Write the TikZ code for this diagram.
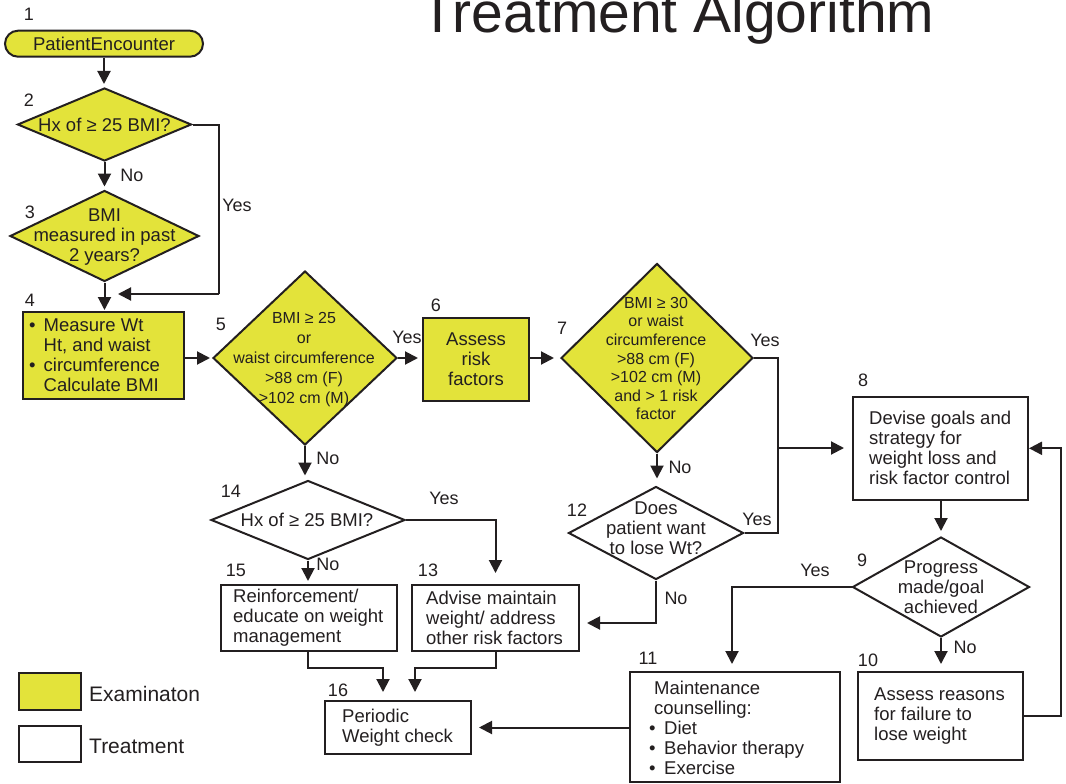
\documentclass[tikz,border=0pt]{standalone}
\usepackage{fontspec}
\setmainfont{Liberation Sans}
\usetikzlibrary{shapes.geometric,arrows.meta}
\definecolor{exyellow}{RGB}{227,227,58}
\definecolor{ink}{RGB}{35,31,32}
\newcommand\fmain{\fontsize{18.5}{20}\selectfont}
\newcommand\fdfive{\fontsize{16}{19.8}\selectfont}
\newcommand\fdseven{\fontsize{16}{18.6}\selectfont}
\newcommand\flab{\fontsize{18}{20}\selectfont}
\newcommand\flegend{\fontsize{21}{24}\selectfont}
\newcommand\ftitle{\fontsize{57}{60}\selectfont}
\newcommand\bul{\makebox[14.5pt][l]{\textbullet}}
\newcommand\bulb{\makebox[15pt][l]{\textbullet}}
\begin{document}
\begin{tikzpicture}[x=1pt,y=-1pt,
  exbox/.style={draw=ink, line width=2pt, fill=exyellow, inner sep=0pt},
  trbox/.style={draw=ink, line width=2pt, fill=white, inner sep=0pt},
  exdia/.style={exbox, diamond},
  trdia/.style={trbox, diamond},
  txt/.style={inner sep=0pt, align=center, font=\fmain, text=ink},
  ltxt/.style={inner sep=0pt, align=left, anchor=west, font=\fmain, text=ink},
  lab/.style={inner sep=0pt, font=\flab, text=ink},
  line/.style={draw=ink, line width=2pt},
  arr/.style={line, -{Triangle[length=13pt,width=13pt]}, shorten >=#1},
  arr/.default=3pt]
\useasboundingbox (0,0) rectangle (1066,784);

% title
\node[anchor=base west, inner sep=0pt, font=\ftitle, text=ink] (title) at (420,33) {Treatment Algorithm};

% 1
\node[exbox, rounded corners=13pt, minimum width=198pt, minimum height=26pt, font=\fmain, text=ink] (n1) at (104,43.7) {PatientEncounter};
% 2
\node[exdia, minimum width=174pt, minimum height=73pt] (d2) at (104.5,124.5) {};
\node[txt] (d2t) at (d2.center) {Hx of ≥ 25 BMI?};
% 3
\node[exdia, minimum width=189pt, minimum height=91pt] (d3) at (104.5,236) {};
\node[txt] (d3t) at (104.5,237) {BMI\\measured in past\\2 years?};
% 4
\node[exbox, minimum width=161pt, minimum height=87pt] (b4) at (103,355.5) {};
\node[ltxt] (b4t) at (29,355.5) {\bul Measure Wt\\\hspace*{14.5pt}Ht, and waist\\\bul circumference\\\hspace*{14.5pt}Calculate BMI};
% 5
\node[exdia, minimum width=184pt, minimum height=174pt] (d5) at (305,358) {};
\node[txt, font=\fdfive] (d5t) at (304,359.5) {BMI ≥ 25\\or\\waist circumference\\>88 cm (F)\\>102 cm (M)};
% 6
\node[exbox, minimum width=106pt, minimum height=83pt] (b6) at (476,359) {};
\node[txt] (b6t) at (b6.center) {Assess\\risk\\factors};
% 7
\node[exdia, minimum width=192pt, minimum height=189pt] (d7) at (657,358) {};
\node[txt, font=\fdseven] (d7t) at (656,358.5) {BMI ≥ 30\\or waist\\circumference\\>88 cm (F)\\>102 cm (M)\\and > 1 risk\\factor};
% 8
\node[trbox, minimum width=175pt, minimum height=103pt] (b8) at (940.5,448.3) {};
\node[ltxt] (b8t) at (869,448) {Devise goals and\\strategy for\\weight loss and\\risk factor control};
% 9
\node[trdia, minimum width=177pt, minimum height=100pt] (d9) at (941,587) {};
\node[txt] (d9t) at (941,587) {Progress\\made/goal\\achieved};
% 10
\node[trbox, minimum width=165pt, minimum height=88pt] (b10) at (940.5,716) {};
\node[ltxt] (b10t) at (874,716) {Assess reasons\\for failure to\\lose weight};
% 11
\node[trbox, minimum width=210pt, minimum height=110pt] (b11) at (735,727) {};
\node[ltxt] (b11t) at (649,728) {\hspace*{5pt}Maintenance\\\hspace*{5pt}counselling:\\\bulb Diet\\\bulb Behavior therapy\\\bulb Exercise};
% 12
\node[trdia, minimum width=175pt, minimum height=93pt] (d12) at (656,533) {};
\node[txt] (d12t) at (656,528) {Does\\patient want\\to lose Wt?};
% 13
\node[trbox, minimum width=167pt, minimum height=66pt] (b13) at (495.5,618) {};
\node[ltxt] (b13t) at (426,618) {Advise maintain\\weight/ address\\other risk factors};
% 14
\node[trdia, minimum width=194pt, minimum height=79pt] (d14) at (308,520) {};
\node[txt] (d14t) at (307,520) {Hx of ≥ 25 BMI?};
% 15
\node[trbox, minimum width=176pt, minimum height=66pt] (b15) at (309,618) {};
\node[ltxt] (b15t) at (233,618) {Reinforcement/\\educate on weight\\management};
% 16
\node[trbox, minimum width=146pt, minimum height=53pt] (b16) at (398,727.5) {};
\node[ltxt] (b16t) at (342,727.5) {Periodic\\Weight check};

% number labels
\node[lab] (l1) at (29,14) {1};
\node[lab] (l2) at (29,100) {2};
\node[lab] (l3) at (30,212) {3};
\node[lab] (l4) at (30,300) {4};
\node[lab] (l5) at (221,324) {5};
\node[lab] (l6) at (436,305) {6};
\node[lab] (l7) at (562,328) {7};
\node[lab] (l8) at (863,380) {8};
\node[lab] (l9) at (862,560) {9};
\node[lab] (l10) at (868,660) {10};
\node[lab] (l11) at (648,658) {11};
\node[lab] (l12) at (577,510) {12};
\node[lab] (l13) at (428,570) {13};
\node[lab] (l14) at (231,491) {14};
\node[lab] (l15) at (236,570) {15};
\node[lab] (l16) at (338,690) {16};

% yes / no labels
\node[lab] (no2) at (132,175) {No};
\node[lab] (yes2) at (237,205) {Yes};
\node[lab] (yes5) at (407,337) {Yes};
\node[lab] (no5) at (328,458) {No};
\node[lab] (yes7) at (765,340) {Yes};
\node[lab] (no7) at (680,467) {No};
\node[lab] (yes12) at (757,519) {Yes};
\node[lab] (no12) at (676,598) {No};
\node[lab] (yes14) at (444,498) {Yes};
\node[lab] (no14) at (328,564) {No};
\node[lab] (yes9) at (815,570) {Yes};
\node[lab] (no9) at (965,647) {No};

% legend
\node[exbox, minimum width=62pt, minimum height=37pt] (lgE) at (50,691.7) {};
\node[trbox, minimum width=62pt, minimum height=36pt] (lgT) at (50,744) {};
\node[anchor=west, inner sep=0pt, font=\flegend, text=ink] (lgEt) at (89,694) {Examinaton};
\node[anchor=west, inner sep=0pt, font=\flegend, text=ink] (lgTt) at (89,746.7) {Treatment};

% helper coordinates
\coordinate (c2) at (219,294);
\coordinate (c2e) at (118,294);
\coordinate (jy) at (778,448);

% connectors
\draw[arr] (n1.south) -- (n1.south |- d2.north);
\draw[arr] (d2.south) -- (d3.north);
\draw[line] (d2.east) -| (c2);
\draw[arr=0pt] (c2) -- (c2e);
\draw[arr=1pt] (d3.south) -- (d3.south |- b4.north);
\draw[arr=2pt] (b4.east |- d5.west) -- (d5.west);
\draw[arr=4pt] (d5.east) -- (d5.east -| b6.west);
\draw[arr=6pt] (b6.east |- d7.west) -- (d7.west);
\draw[line] (d7.east) -| (jy) |- (d12.east);
\draw[arr=8pt] (jy) -- (jy -| b8.west);
\draw[arr=7pt] (d7.south) -- (d7.south |- d12.north);
\draw[arr=5pt] (b8.south -| d9.north) -- (d9.north);
\draw[arr=7pt] (d9.south) -- (d9.south |- b10.north);
\draw[arr=0pt] (b10.east) -- ++(37,0) |- (b8.east);
\draw[arr=7pt] (d9.west) -| ([xshift=-3pt]b11.north);
\draw[arr=7pt] (b11.west |- b16.east) -- (b16.east);
\draw[arr=7pt] (d12.south) |- ([yshift=-5pt]b13.east);
\draw[arr=4pt] (d5.south) -- (d5.south |- d14.north);
\draw[arr=11pt] (d14.east) -| (b13.north);
\draw[arr=3pt] (d14.south) -- (d14.south |- b15.north);
\draw[arr=8pt] (b15.south -| d14.south) -- ++(0,16) -| ([xshift=-15pt]b16.north);
\draw[arr=8pt] (b13.south) -- ++(0,16) -| ([xshift=17pt]b16.north);
\end{tikzpicture}
\end{document}
